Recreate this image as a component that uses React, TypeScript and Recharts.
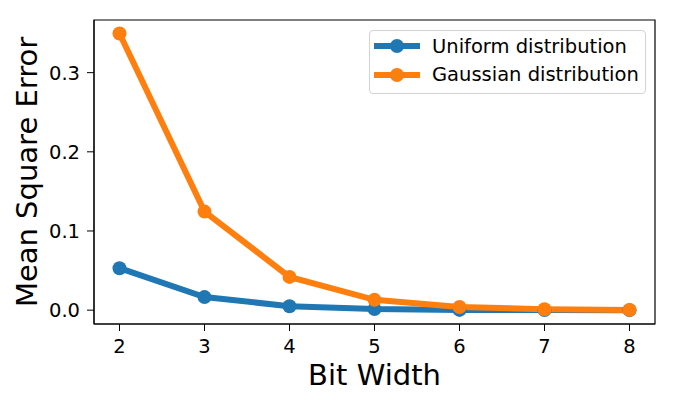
import { LineChart, Line, XAxis, YAxis, ReferenceArea, Label } from "recharts";

const bitWidths = [2, 3, 4, 5, 6, 7, 8];
const uniformMse = [0.053, 0.0165, 0.005, 0.0013, 0.0003, 0.0001, 0.00002];
const gaussianMse = [0.3495, 0.1245, 0.042, 0.013, 0.004, 0.0012, 0.0003];
const xTicks = [2, 3, 4, 5, 6, 7, 8];
const yTicks = [0, 0.1, 0.2, 0.3];

const series = [
    { key: "uniform", name: "Uniform distribution", color: "#1f77b4" },
    { key: "gaussian", name: "Gaussian distribution", color: "#ff7f0e" },
];

const data = bitWidths.map((b, i) => ({ bits: b, uniform: uniformMse[i], gaussian: gaussianMse[i] }));

const FONT = "'DejaVu Sans', sans-serif";
const X_DOMAIN: [number, number] = [1.7, 8.3];
const Y_DOMAIN: [number, number] = [-0.0175, 0.3665];
const LINE_W = 6;
const DOT_R = 7;

// legend sits in the upper right of the plot, like matplotlib's "best" spot here
function LegendBox() {
    return (
        <div
            style={{
                position: "absolute",
                left: 369,
                top: 30,
                width: 275,
                height: 62,
                border: "1px solid #d3d3d3",
                borderRadius: 4,
                background: "rgba(255,255,255,0.8)",
                fontFamily: FONT,
                fontSize: 19.5,
                color: "#000",
            }}
        >
            {series.map((s, i) => (
                <div
                    key={s.key}
                    style={{ position: "absolute", left: 0, top: 2 + i * 28.5, height: 26, display: "flex", alignItems: "center" }}
                >
                    <svg width={62} height={26} style={{ display: "block" }}>
                        <line x1={4} x2={50} y1={13} y2={13} stroke={s.color} strokeWidth={LINE_W} />
                        <circle cx={27} cy={13} r={DOT_R} fill={s.color} />
                    </svg>
                    <span style={{ whiteSpace: "nowrap" }}>{s.name}</span>
                </div>
            ))}
        </div>
    );
}

export default function App() {
    return (
        <div style={{ position: "absolute", left: 0, top: 0, width: 676, height: 407, background: "#fff" }}>
            <LineChart width={676} height={407} data={data} margin={{ top: 20, right: 21, left: 0, bottom: 0 }}>
                <XAxis
                    dataKey="bits"
                    type="number"
                    domain={X_DOMAIN}
                    ticks={xTicks}
                    allowDataOverflow
                    height={83}
                    stroke="#000"
                    tickSize={7}
                    tickMargin={8}
                    tick={{ fill: "#000", fontSize: 19.5, fontFamily: FONT }}
                >
                    <Label
                        content={(props: any) => {
                            const vb = props.viewBox;
                            return (
                                <text x={vb.x + vb.width / 2} y={vb.y + 61} textAnchor="middle" fontSize={29} fontFamily={FONT} fill="#000">
                                    Bit Width
                                </text>
                            );
                        }}
                    />
                </XAxis>
                <YAxis
                    type="number"
                    domain={Y_DOMAIN}
                    ticks={yTicks}
                    allowDataOverflow
                    width={94}
                    stroke="#000"
                    tickSize={7}
                    tickMargin={7}
                    tickFormatter={(v: number) => v.toFixed(1)}
                    tick={{ fill: "#000", fontSize: 19.5, fontFamily: FONT }}
                >
                    <Label
                        content={(props: any) => {
                            const vb = props.viewBox;
                            const cy = vb.y + vb.height / 2;
                            return (
                                <text
                                    x={37}
                                    y={cy}
                                    transform={`rotate(-90, 37, ${cy})`}
                                    textAnchor="middle"
                                    fontSize={29}
                                    fontFamily={FONT}
                                    fill="#000"
                                >
                                    Mean Square Error
                                </text>
                            );
                        }}
                    />
                </YAxis>
                <ReferenceArea
                    x1={X_DOMAIN[0]}
                    x2={X_DOMAIN[1]}
                    y1={Y_DOMAIN[0]}
                    y2={Y_DOMAIN[1]}
                    fill="none"
                    stroke="#000"
                    strokeWidth={1.2}
                />
                {series.map((s) => (
                    <Line
                        key={s.key}
                        dataKey={s.key}
                        name={s.name}
                        stroke={s.color}
                        strokeWidth={LINE_W}
                        dot={{ r: DOT_R, fill: s.color, stroke: s.color, strokeWidth: 0 }}
                        activeDot={false}
                        isAnimationActive={false}
                    />
                ))}
            </LineChart>
            <LegendBox />
        </div>
    );
}
